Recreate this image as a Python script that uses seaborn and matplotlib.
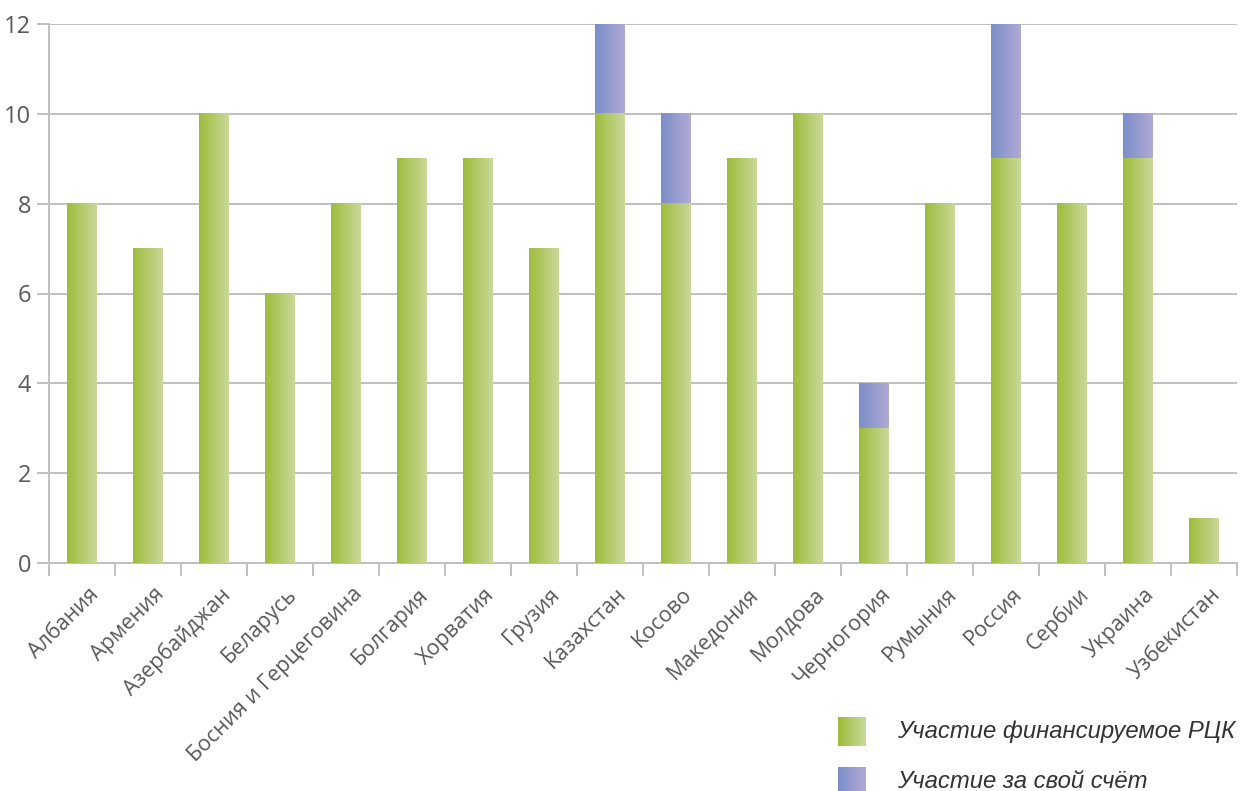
"""Participation by country: RCC-funded vs self-funded (stacked bars)."""

import matplotlib

matplotlib.use("Agg")

import matplotlib.pyplot as plt
import matplotlib.transforms as mtransforms
import numpy as np
import pandas as pd
import seaborn as sns
from matplotlib.colors import LinearSegmentedColormap

countries = [
    "Албания", "Армения", "Азербайджан", "Беларусь", "Босния и Герцеговина",
    "Болгария", "Хорватия", "Грузия", "Казахстан", "Косово", "Македония",
    "Молдова", "Черногория", "Румыния", "Россия", "Сербии", "Украина", "Узбекистан",
]
funded = [8, 7, 10, 6, 8, 9, 9, 7, 10, 8, 9, 10, 3, 8, 9, 8, 9, 1]
own_cost = [0, 0, 0, 0, 0, 0, 0, 0, 2, 2, 0, 0, 1, 0, 3, 0, 1, 0]
legend_labels = ["Участие финансируемое РЦК", "Участие за свой счёт"]
y_ticks = [0, 2, 4, 6, 8, 10, 12]

green_cmap = LinearSegmentedColormap.from_list("green", ["#9dbc3a", "#cad99a"])
blue_cmap = LinearSegmentedColormap.from_list("blue", ["#7a8ec8", "#b1aad5"])
grid_color = "#c0c0c0"
text_color = "#595959"

df = pd.DataFrame({"country": countries, "funded": funded, "own": own_cost})
df["total"] = df["funded"] + df["own"]

sns.set_style("white")
plt.rcParams["font.family"] = ["Open Sans", "DejaVu Sans"]

fig = plt.figure(figsize=(12.4, 7.91), dpi=100)
ax = fig.add_axes([49 / 1240, 228 / 791, 1188 / 1240, 539 / 791])

# totals first, funded part on top -> stacked look
sns.barplot(data=df, x="country", y="total", color="#7a8ec8", width=0.44, ax=ax, zorder=2)
sns.barplot(data=df, x="country", y="funded", color="#9dbc3a", width=0.44, ax=ax, zorder=3)

grad = np.linspace(0, 1, 256).reshape(1, -1)
n = len(countries)
for i, patch in enumerate(list(ax.patches)):
    x0, y0 = patch.get_x(), patch.get_y()
    w, h = patch.get_width(), patch.get_height()
    if h <= 0:
        continue
    cmap = blue_cmap if i < n else green_cmap
    ax.imshow(grad, extent=[x0, x0 + w, y0, y0 + h], aspect="auto", cmap=cmap,
              interpolation="bicubic", zorder=2 if i < n else 3)
    patch.set_visible(False)

ax.set_xlim(-0.5, n - 0.5)
ax.set_ylim(0, 12)
ax.set_yticks(y_ticks)
ax.yaxis.grid(True, color=grid_color, linewidth=1.4)
ax.set_axisbelow(True)

ax.set_xticks(np.arange(-0.5, n, 1.0), minor=True)
ax.tick_params(axis="x", which="minor", length=9, width=1.4, color=grid_color, bottom=True)
ax.tick_params(axis="x", which="major", length=0, pad=15)
ax.tick_params(axis="y", length=9, width=1.4, color=grid_color, left=True, pad=4)
ax.set_xticks(range(n))
ax.set_xticklabels(countries, rotation=45, ha="right", rotation_mode="anchor",
                   fontsize=15.5, color=text_color)
shift = mtransforms.ScaledTranslation(6 / 100, 0, fig.dpi_scale_trans)
for lab in ax.get_xticklabels():
    lab.set_transform(lab.get_transform() + shift)
for lab in ax.get_yticklabels():
    lab.set_fontsize(17)
    lab.set_color(text_color)

for side in ["top", "right"]:
    ax.spines[side].set_visible(False)
for side in ["left", "bottom"]:
    ax.spines[side].set_color(grid_color)
    ax.spines[side].set_linewidth(1.4)
ax.set_xlabel("")
ax.set_ylabel("")

# legend with gradient swatches
for k, (cmap, label) in enumerate(zip([green_cmap, blue_cmap], legend_labels)):
    top = 717 + k * 50
    sw = fig.add_axes([838 / 1240, 1 - (top + 29) / 791, 28 / 1240, 29 / 791])
    sw.imshow(grad, aspect="auto", cmap=cmap, interpolation="bicubic")
    sw.axis("off")
    fig.text(897 / 1240, 1 - (top + 14.5) / 791, label, ha="left", va="center",
             fontsize=17.2, style="italic", color="#333333",
             family=["Liberation Sans", "DejaVu Sans"])

fig.savefig("out.png", dpi=100)
